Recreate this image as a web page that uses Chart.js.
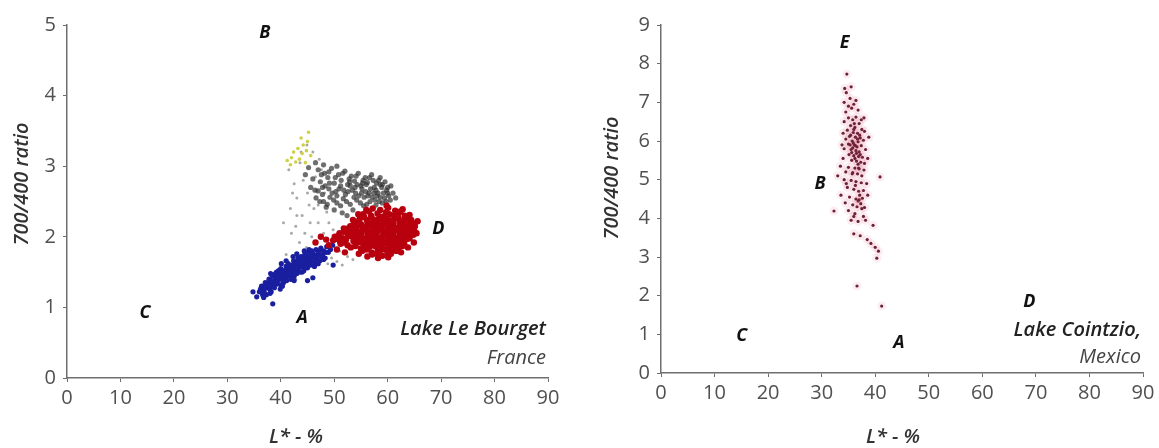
<!DOCTYPE html>
<html>
<head>
<meta charset="utf-8">
<script src="https://cdn.jsdelivr.net/npm/chart.js@4/dist/chart.umd.min.js"></script>
<style>
  html, body { margin: 0; padding: 0; background: #fff; }
  #wrap { position: relative; width: 1159px; height: 448px; }
  #left { position: absolute; left: 0; top: 0; }
  #right { position: absolute; left: 580px; top: 0; }
</style>
</head>
<body>
<div id="wrap">
  <canvas id="left" width="580" height="448"></canvas>
  <canvas id="right" width="579" height="448"></canvas>
</div>
<script>
// Lake Le Bourget (France) - L* (%) vs 700/400 ratio
const bourgetBlue = [
  [36.0,1.22],[36.4,1.30],[36.8,1.25],[37.1,1.35],[37.3,1.18],[37.5,1.28],[37.8,1.40],[38.0,1.32],[38.2,1.22],[38.4,1.45],
  [38.6,1.36],[38.8,1.28],[39.0,1.42],[39.2,1.50],[39.3,1.33],[39.5,1.38],[39.7,1.46],[39.9,1.26],[40.0,1.55],[40.2,1.40],
  [40.3,1.48],[40.5,1.35],[40.6,1.52],[40.8,1.44],[41.0,1.58],[41.1,1.38],[41.3,1.50],[41.4,1.62],[41.6,1.45],[41.8,1.55],
  [41.9,1.40],[42.1,1.60],[42.2,1.50],[42.4,1.66],[42.5,1.44],[42.7,1.56],[42.9,1.62],[43.0,1.48],[43.2,1.70],[43.3,1.55],
  [43.5,1.64],[43.6,1.50],[43.8,1.72],[44.0,1.58],[44.1,1.66],[44.3,1.52],[44.5,1.75],[44.6,1.62],[44.8,1.68],[45.0,1.56],
  [45.1,1.78],[45.3,1.64],[45.5,1.72],[45.6,1.60],[45.8,1.80],[46.0,1.68],[46.2,1.74],[46.4,1.62],[46.6,1.82],[46.8,1.70],
  [47.0,1.76],[47.3,1.66],[47.5,1.84],[47.8,1.74],[48.0,1.80],[48.3,1.70],[48.6,1.86],[48.9,1.78],[49.3,1.82],[49.7,1.88],
  [37.0,1.30],[37.9,1.26],[38.5,1.30],[39.1,1.36],[39.8,1.42],[40.4,1.46],[40.9,1.50],[41.5,1.54],[42.0,1.46],[42.6,1.60],
  [43.1,1.58],[43.7,1.60],[44.2,1.70],[44.9,1.62],[45.4,1.68],[46.1,1.76],[46.7,1.72],[38.3,1.38],[39.4,1.44],[40.7,1.38],
  [41.7,1.48],[42.8,1.52],[43.9,1.64],[45.2,1.70],[36.6,1.18],[38.1,1.48],[40.1,1.62],[42.3,1.72],[44.4,1.80],[47.2,1.80],
  [37.6,1.34],[39.6,1.52],[41.2,1.44],[43.4,1.62],[45.9,1.66],[35.5,1.15],[36.2,1.26],[40.0,1.32],[42.0,1.40],[44.0,1.50],
  [46.3,1.58],[48.0,1.68],[34.8,1.22],[38.5,1.05],[36.8,1.14],[49.8,1.60],[46.0,1.42],[45.0,1.38],
  [36.9,1.22],[37.7,1.32],[38.9,1.34],[39.9,1.48],[40.5,1.42],[41.3,1.56],[42.2,1.56],[43.2,1.64],[44.0,1.66],[44.7,1.72],
  [45.7,1.74],[46.5,1.68],[47.6,1.72],[48.4,1.78],[39.0,1.48],[41.0,1.66],[43.0,1.76],[45.3,1.82],[38.0,1.20],[40.3,1.30],
  [42.5,1.38],[44.6,1.56],[47.0,1.62]
];
const bourgetRed = [
  [57.2,2.40],[58.6,2.38],[60.1,2.41],[61.4,2.37],[62.8,2.39],
  [55.4,2.32],[56.9,2.30],[58.1,2.33],[59.2,2.29],[60.3,2.32],[61.2,2.30],[62.1,2.34],[63.2,2.30],[64.1,2.31],
  [54.8,2.26],[56.1,2.24],[57.0,2.27],[58.2,2.25],[59.1,2.23],[60.0,2.26],[61.1,2.24],[62.0,2.27],[63.1,2.25],[64.4,2.24],
  [53.9,2.20],[55.0,2.18],[56.2,2.21],[57.1,2.19],[58.0,2.20],[59.2,2.18],[60.1,2.21],[61.0,2.19],[62.2,2.20],[63.0,2.18],[64.1,2.21],[65.0,2.19],
  [53.0,2.15],[54.1,2.13],[55.1,2.16],[56.0,2.14],[57.2,2.15],[58.1,2.13],[59.0,2.16],[60.2,2.14],[61.1,2.15],[62.0,2.13],[63.2,2.16],[64.0,2.14],[65.1,2.15],
  [52.1,2.10],[53.2,2.08],[54.0,2.11],[55.2,2.09],[56.1,2.10],[57.0,2.08],[58.2,2.11],[59.1,2.09],[60.0,2.10],[61.2,2.08],[62.1,2.11],[63.0,2.09],[64.2,2.10],[65.0,2.08],
  [51.0,2.05],[52.6,2.03],[54.1,2.06],[55.0,2.04],[56.2,2.05],[57.1,2.03],[58.0,2.06],[59.2,2.04],[60.1,2.05],[61.0,2.03],[62.2,2.06],[63.1,2.04],[64.0,2.05],[64.8,2.03],
  [50.1,2.00],[51.6,1.98],[53.0,2.01],[54.2,1.99],[55.1,2.00],[56.0,1.98],[57.2,2.01],[58.1,1.99],[59.0,2.00],[60.2,1.98],[61.1,2.01],[62.0,1.99],[63.2,2.00],[64.1,1.98],
  [49.8,1.95],[51.1,1.93],[52.2,1.96],[53.6,1.94],[55.0,1.95],[56.1,1.93],[57.0,1.96],[58.2,1.94],[59.1,1.95],[60.0,1.93],[61.2,1.96],[62.1,1.94],[63.0,1.95],
  [51.2,1.90],[52.5,1.88],[54.0,1.91],[55.6,1.89],[57.1,1.90],[58.0,1.88],[59.2,1.91],[60.1,1.89],[61.0,1.90],[62.2,1.88],[63.1,1.91],
  [53.1,1.85],[55.0,1.83],[56.6,1.86],[58.1,1.84],[59.0,1.85],[60.2,1.83],[61.1,1.86],[62.0,1.84],
  [55.2,1.80],[57.0,1.78],[58.6,1.81],[60.0,1.79],[61.6,1.80],
  [57.1,1.75],[59.0,1.73],[60.6,1.76],[58.2,1.70],[60.1,1.71],
  [49.0,1.88],[50.5,1.82],[52.0,1.78],[48.5,1.96],[51.8,2.12],[53.5,2.24],[54.5,2.32],[56.0,2.38],[65.6,2.22],[65.4,2.05],
  [64.9,1.92],[63.8,1.85],[54.6,1.76],[56.2,1.72],[62.5,1.78],[59.8,2.44],[46.5,1.92],[47.5,2.00],
  [56.5,2.36],[59.7,2.35],[62.4,2.36],[55.6,2.28],[58.6,2.28],[61.6,2.27],[63.6,2.27],[54.5,2.22],[57.6,2.23],[60.6,2.22],
  [63.6,2.22],[53.6,2.17],[56.6,2.17],[59.6,2.18],[62.6,2.17],[64.6,2.17],[52.6,2.12],[55.6,2.12],[58.6,2.13],[61.6,2.12],
  [64.6,2.12],[51.8,2.07],[54.6,2.07],[57.6,2.07],[60.6,2.07],[63.6,2.07],[50.8,2.02],[53.6,2.02],[56.6,2.03],[59.6,2.02],
  [62.6,2.02],[50.6,1.97],[54.4,1.97],[57.6,1.97],[60.6,1.97],[63.6,1.97],[51.8,1.92],[55.0,1.92],[58.6,1.92],[61.6,1.92],
  [54.0,1.87],[57.6,1.87],[60.6,1.87],[62.8,1.87],[56.0,1.82],[59.4,1.82],[61.0,1.82],[58.0,1.77],[60.0,1.76]
];
const bourgetDark = [
  [47.0,2.95],[48.2,2.90],[49.5,2.97],[50.8,2.88],[52.0,2.93],[53.2,2.86],[54.5,2.90],[55.8,2.84],[57.0,2.88],[58.3,2.80],[59.5,2.78],[60.6,2.72],
  [46.0,2.82],[47.4,2.78],[48.8,2.84],[50.0,2.76],[51.3,2.80],[52.5,2.74],[53.8,2.79],[55.0,2.72],[56.2,2.77],[57.5,2.70],[58.6,2.74],[59.8,2.66],[61.0,2.62],
  [45.6,2.70],[47.0,2.65],[48.3,2.72],[49.6,2.62],[50.9,2.68],[52.1,2.60],[53.4,2.66],[54.6,2.58],[55.9,2.64],[57.1,2.56],[58.2,2.62],[59.4,2.55],[60.5,2.52],
  [46.6,2.55],[48.0,2.50],[49.2,2.56],[50.5,2.48],[51.7,2.54],[53.0,2.46],[54.2,2.52],[55.5,2.44],[56.7,2.50],[57.8,2.45],[59.0,2.48],
  [48.5,2.42],[50.0,2.38],[51.5,2.34],[53.5,2.38],[52.4,2.30],
  [55.2,2.68],[56.5,2.62],[57.8,2.66],[58.9,2.70],[56.0,2.74],[57.3,2.80],[54.3,2.74],[55.6,2.56],[58.0,2.58],[59.2,2.62],
  [56.8,2.68],[54.0,2.62],[53.0,2.72],[51.8,2.66],[50.5,2.58],[49.0,2.68],[47.8,2.60],[52.8,2.82],[55.4,2.80],[57.6,2.52],
  [60.2,2.58],[61.5,2.55],[60.0,2.70],[58.6,2.84],[46.5,3.05],[48.0,3.02],[50.5,3.00],[45.2,2.98],[44.6,2.88],
  [47.6,2.88],[49.0,2.92],[50.2,2.84],[51.6,2.90],[52.9,2.78],[54.1,2.86],[55.3,2.76],[56.6,2.84],[57.9,2.76],[59.0,2.74],
  [60.0,2.62],[46.4,2.66],[47.8,2.70],[49.1,2.76],[50.3,2.64],[51.2,2.72],[52.6,2.64],[53.9,2.70],[55.1,2.62],[56.3,2.58],
  [57.4,2.62],[58.6,2.56],[59.7,2.50],[47.3,2.50],[48.7,2.46],[49.9,2.52],[51.2,2.44],[52.3,2.50],[53.7,2.56],[54.9,2.48],
  [56.1,2.46],[58.4,2.50]
];
const bourgetGrey = [
  [41.5,2.95],[42.5,2.75],[43.0,2.55],[41.8,2.40],[44.0,2.30],[42.8,2.15],[44.5,2.05],[43.5,1.92],[45.5,2.20],[46.2,2.40],
  [45.0,2.62],[44.2,2.80],[43.6,3.05],[46.0,3.20],[47.2,3.10],[45.8,2.00],[47.0,2.20],[48.0,2.05],[47.5,1.85],[49.0,2.20],
  [48.6,2.35],[46.8,1.75],[49.5,1.70],[50.5,1.65],[51.5,1.60],[47.0,2.45],[45.3,2.45],[43.0,2.30],[42.0,2.05],[44.8,1.85],
  [46.5,2.85],[47.6,2.95],[48.2,2.62],[42.2,2.62],[40.5,2.20],[41.0,1.75],[43.8,3.20],[44.9,3.30],[49.8,2.10],[50.2,1.95],
  [51.0,1.80],[52.5,1.72],[53.5,1.68],[48.8,1.62],[46.0,1.60],[44.2,1.50],[42.8,1.40],[40.0,1.62]
];
const bourgetYellow = [
  [41.2,3.08],[42.0,3.12],[42.8,3.06],[43.5,3.10],[42.4,3.20],[43.2,3.25],[44.0,3.18],[44.8,3.22],
  [44.2,3.30],[45.0,3.35],[45.2,3.48],[43.8,3.40],[41.8,3.02],[44.6,3.05],[45.6,3.15]
];

// Lake Cointzio (Mexico)
const cointzioPoints = [
  [34.7,7.73],[34.3,7.36],[34.6,7.25],[35.3,7.10],[34.2,7.00],[36.0,6.95],[35.6,6.85],[34.5,6.75],[36.8,6.80],[35.0,6.60],
  [35.8,6.55],[36.4,6.62],[34.2,6.50],[37.0,6.45],[35.4,6.40],[36.2,6.35],[37.5,6.30],[34.8,6.28],[35.9,6.22],[36.7,6.20],
  [38.0,6.25],[35.2,6.12],[36.3,6.10],[37.2,6.08],[34.5,6.05],[35.7,6.00],[36.8,5.98],[37.8,6.02],[35.0,5.92],[36.1,5.90],
  [36.6,5.85],[37.4,5.88],[34.2,5.80],[35.5,5.78],[36.4,5.75],[37.0,5.72],[38.2,5.78],[35.1,5.65],[36.0,5.62],[36.9,5.60],
  [37.6,5.58],[34.0,5.55],[35.6,5.50],[36.5,5.48],[37.3,5.45],[38.0,5.42],[33.5,5.35],[35.0,5.32],[36.2,5.30],[37.0,5.28],
  [37.9,5.25],[34.5,5.20],[35.8,5.18],[36.7,5.15],[37.5,5.10],[40.9,5.07],[33.0,5.10],[34.2,5.00],[35.5,4.98],[36.4,4.95],
  [37.4,4.92],[38.4,4.90],[34.8,4.80],[36.0,4.75],[36.9,4.70],[37.8,4.72],[33.6,4.60],[35.2,4.55],[36.4,4.50],[37.0,4.48],
  [37.6,4.52],[38.6,4.60],[34.4,4.40],[35.8,4.35],[36.6,4.30],[37.3,4.38],[38.0,4.28],[32.3,4.19],[35.0,4.20],[36.2,4.12],
  [37.8,4.05],[35.5,3.95],[36.8,3.92],[38.2,3.95],[39.6,3.82],[36.0,3.60],[37.2,3.55],[38.5,3.45],[39.2,3.35],[40.0,3.25],
  [40.6,3.15],[40.3,2.97],[41.2,1.73],[36.6,2.25],
  [35.9,5.95],[36.3,5.88],[36.7,6.05],[35.6,5.70],[36.2,5.55],[36.8,5.40],[35.4,6.15],[36.0,6.30],[37.1,6.15],[36.5,5.68],
  [35.8,5.82],[37.2,5.65],[36.1,6.45],[35.3,5.90],[37.4,6.55],[36.9,5.30],[35.7,5.15],[36.3,4.85],[37.1,4.60],[36.8,4.45],
  [37.5,4.25],[36.0,4.05],[35.0,6.90],[35.5,7.40],[36.4,7.05],[34.0,6.20],[33.8,5.90],[38.6,5.55],[38.8,6.10],[37.9,6.60],[34.6,4.90]
];

const xTicks = [0, 10, 20, 30, 40, 50, 60, 70, 80, 90];

// text annotations: [text, x, y]
const bourgetLetters = [['B', 37, 4.89], ['C', 14.6, 0.92], ['A', 44, 0.85], ['D', 69.5, 2.11]];
const cointzioLetters = [['E', 34.3, 8.55], ['B', 29.7, 4.88], ['C', 15.1, 0.96], ['A', 44.4, 0.78], ['D', 68.8, 1.83]];

const FONT = "'Open Sans', 'Noto Sans', sans-serif";

const textPlugin = {
  id: 'texts',
  afterDraw(chart, args, opts) {
    const ctx = chart.ctx;
    const xs = chart.scales.x, ys = chart.scales.y;
    ctx.save();
    ctx.textBaseline = 'middle';
    ctx.textAlign = 'center';
    ctx.fillStyle = '#111';
    ctx.font = "italic 700 18px " + FONT;
    opts.letters.forEach(l => {
      ctx.fillText(l[0], xs.getPixelForValue(l[1]), ys.getPixelForValue(l[2]));
    });
    // lake name, right aligned against the end of the x axis
    ctx.textAlign = 'right';
    ctx.fillStyle = '#222';
    ctx.font = "italic 600 20px " + FONT;
    ctx.fillText(opts.lake[0], chart.chartArea.right - 2, chart.chartArea.bottom - opts.lakeGap[0]);
    ctx.fillStyle = '#444';
    ctx.font = "italic 400 20px " + FONT;
    ctx.fillText(opts.lake[1], chart.chartArea.right - 2, chart.chartArea.bottom - opts.lakeGap[1]);
    // axis titles
    ctx.textAlign = 'center';
    ctx.fillStyle = '#333';
    ctx.font = "italic 600 20px " + FONT;
    ctx.fillText('L* - %', opts.xTitle[0], opts.xTitle[1]);
    ctx.translate(opts.yTitle[0], opts.yTitle[1]);
    ctx.rotate(-Math.PI / 2);
    ctx.fillText('700/400 ratio', 0, 0);
    ctx.restore();
  }
};

function axes(yMax, yWidth, xHeight) {
  return {
    x: {
      type: 'linear', min: 0, max: 90,
      afterBuildTicks: s => { s.ticks = xTicks.map(v => ({ value: v })); },
      afterFit: s => { s.height = xHeight; },
      border: { display: true, color: '#6f6f6f', width: 1.5 },
      grid: { display: true, drawOnChartArea: false, drawTicks: true, tickLength: 4, color: '#6f6f6f' },
      ticks: { color: '#505050', padding: 4, font: { family: FONT, size: 20 } }
    },
    y: {
      type: 'linear', min: 0, max: yMax,
      ticks: { stepSize: 1, color: '#505050', padding: 7, font: { family: FONT, size: 20 } },
      afterFit: s => { s.width = yWidth; },
      border: { display: true, color: '#6f6f6f', width: 1.5 },
      grid: { display: true, drawOnChartArea: false, drawTicks: true, tickLength: 4, color: '#6f6f6f' }
    }
  };
}

function cloud(data, color, radius, order) {
  return { data: data, backgroundColor: color, borderWidth: 0, pointRadius: radius, pointHoverRadius: radius, order: order };
}

new Chart(document.getElementById('left'), {
  type: 'scatter',
  data: {
    datasets: [
      cloud(bourgetRed, '#b8000e', 3.2, 0),
      cloud(bourgetBlue, '#1a1fa0', 2.6, 1),
      cloud(bourgetDark, 'rgba(50,50,50,0.7)', 2.6, 2),
      cloud(bourgetYellow, '#cfd045', 1.8, 3),
      cloud(bourgetGrey, '#a8a8a8', 1.5, 4)
    ]
  },
  options: {
    responsive: false,
    devicePixelRatio: 1,
    animation: false,
    layout: { padding: { left: 0, top: 25, right: 32, bottom: 0 } },
    scales: axes(5, 67, 70),
    plugins: {
      legend: { display: false },
      tooltip: { enabled: false },
      texts: {
        letters: bourgetLetters,
        lake: ['Lake Le Bourget', 'France'],
        lakeGap: [49, 20],
        xTitle: [296, 437],
        yTitle: [22, 184]
      }
    }
  },
  plugins: [textPlugin]
});

new Chart(document.getElementById('right'), {
  type: 'scatter',
  data: {
    datasets: [
      cloud(cointzioPoints, '#6e2236', 1.6, 0),
      cloud(cointzioPoints, 'rgba(225,110,140,0.12)', 4.5, 1)
    ]
  },
  options: {
    responsive: false,
    devicePixelRatio: 1,
    animation: false,
    layout: { padding: { left: 0, top: 25, right: 16, bottom: 0 } },
    scales: axes(9, 81, 75),
    plugins: {
      legend: { display: false },
      tooltip: { enabled: false },
      texts: {
        letters: cointzioLetters,
        lake: ['Lake Cointzio,', 'Mexico'],
        lakeGap: [43, 16],
        xTitle: [313, 437],
        yTitle: [32, 178]
      }
    }
  },
  plugins: [textPlugin]
});
</script>
</body>
</html>
